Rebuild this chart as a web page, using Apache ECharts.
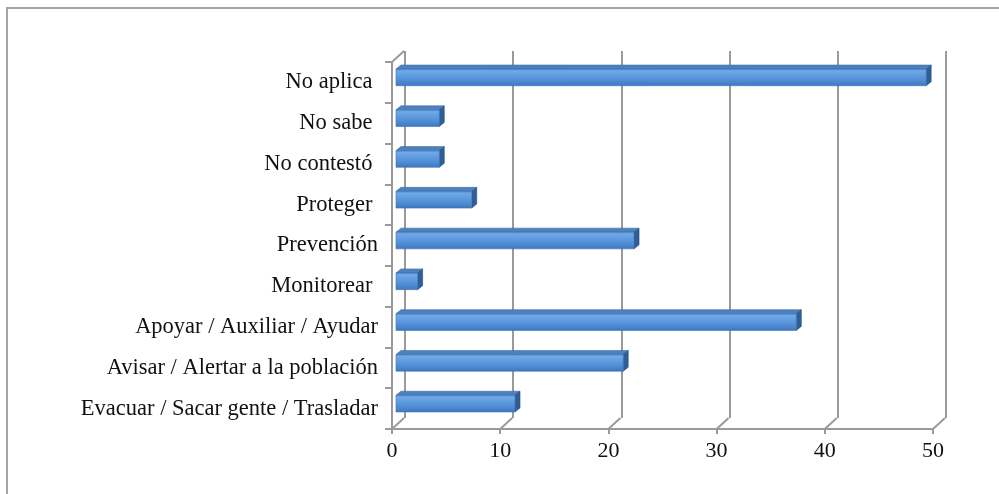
<!DOCTYPE html>
<html>
<head>
<meta charset="utf-8">
<script src="https://cdn.jsdelivr.net/npm/echarts@6/dist/echarts.min.js"></script>
<style>
  html, body { margin: 0; padding: 0; background: #fff; }
  #chart { width: 999px; height: 494px; }
</style>
</head>
<body>
<div id="chart"></div>
<script>
// Categories, top to bottom
const categories = [
  'No aplica ',
  'No sabe ',
  'No contestó ',
  'Proteger ',
  'Prevención',
  'Monitorear ',
  'Apoyar / Auxiliar / Ayudar',
  'Avisar / Alertar a la población',
  'Evacuar / Sacar gente / Trasladar'
];
const counts = [49, 4, 4, 7, 22, 2, 37, 21, 11];
const axisTicks = [0, 10, 20, 30, 40, 50];

const FONT = '"Liberation Serif", "DejaVu Serif", serif';
const LINE = '#9a9a9a';
// perspective offset of the back wall and of the bar depth
const WALL_DX = 12, WALL_DY = 11;
const BAR_DX = 5, BAR_DY = 4;

const chart = echarts.init(document.getElementById('chart'), null, { renderer: 'canvas' });

function renderBar(params, api) {
  const idx = api.value(1);
  const val = api.value(0);
  const start = api.coord([0, idx]);
  const end = api.coord([val, idx]);
  const band = api.size([0, 1])[1];
  const h = band * 0.41;
  const x0 = start[0] + 4;
  const x1 = end[0] + 4;
  const y0 = start[1] - 5 - h / 2;
  const y1 = y0 + h;
  const front = new echarts.graphic.LinearGradient(0, 0, 0, 1, [
    { offset: 0, color: '#4a84c8' },
    { offset: 0.12, color: '#6fa9e7' },
    { offset: 0.55, color: '#5894db' },
    { offset: 1, color: '#3d77c0' }
  ]);
  return {
    type: 'group',
    children: [
      {
        type: 'polygon',
        shape: { points: [[x0, y0], [x0 + BAR_DX, y0 - BAR_DY], [x1 + BAR_DX, y0 - BAR_DY], [x1, y0]] },
        style: { fill: '#4d80bd', stroke: '#3f6ea8', lineWidth: 0.6 }
      },
      {
        type: 'polygon',
        shape: { points: [[x1, y0], [x1 + BAR_DX, y0 - BAR_DY], [x1 + BAR_DX, y1 - BAR_DY], [x1, y1]] },
        style: { fill: '#2f5d96', stroke: '#2a5286', lineWidth: 0.6 }
      },
      {
        type: 'rect',
        shape: { x: x0, y: y0, width: x1 - x0, height: h },
        style: { fill: front, stroke: '#3e72b2', lineWidth: 0.6 }
      }
    ]
  };
}

function renderFloor(params, api) {
  const v = api.value(0);
  const cs = params.coordSys;
  const x = api.coord([v, 0])[0];
  const yb = cs.y + cs.height;
  const children = [{
    type: 'line',
    shape: { x1: x, y1: yb, x2: x + WALL_DX, y2: yb - WALL_DY },
    style: { stroke: LINE, lineWidth: 2 }
  }];
  if (params.dataIndex === 0) {
    children.push({
      type: 'line',
      shape: { x1: x, y1: cs.y, x2: x + WALL_DX, y2: cs.y - WALL_DY },
      style: { stroke: LINE, lineWidth: 2 }
    });
  }
  return { type: 'group', children };
}

const option = {
  animation: false,
  backgroundColor: '#fff',
  graphic: [{
    type: 'rect',
    shape: { x: 7, y: 8, width: 1100, height: 600 },
    style: { fill: 'none', stroke: '#a6a6a6', lineWidth: 2 },
    silent: true,
    z: -10
  }],
  grid: [
    { left: 392, top: 62, width: 541, height: 367 },
    { left: 392 + WALL_DX + 1, top: 62 - WALL_DY, width: 541, height: 367 }
  ],
  xAxis: [
    {
      gridIndex: 0, type: 'value', min: 0, max: 50, interval: 10,
      axisLine: { show: true, lineStyle: { color: LINE, width: 2 } },
      axisTick: { show: true, length: 5, lineStyle: { color: LINE, width: 2 } },
      axisLabel: { color: '#111', fontFamily: FONT, fontSize: 22, margin: 11 },
      splitLine: { show: false }
    },
    {
      gridIndex: 1, type: 'value', min: 0, max: 50, interval: 10,
      axisLine: { show: false }, axisTick: { show: false }, axisLabel: { show: false },
      splitLine: { show: true, lineStyle: { color: LINE, width: 2 } }
    }
  ],
  yAxis: [
    {
      gridIndex: 0, type: 'category', data: categories, inverse: true,
      axisLine: { show: true, lineStyle: { color: LINE, width: 2 } },
      axisTick: { show: true, length: 7, lineStyle: { color: LINE, width: 2 } },
      axisLabel: { color: '#111', fontFamily: FONT, fontSize: 22.5, margin: 14 },
      splitLine: { show: false }
    },
    {
      gridIndex: 1, type: 'category', data: categories, inverse: true,
      axisLine: { show: false }, axisTick: { show: false }, axisLabel: { show: false },
      splitLine: { show: false }
    }
  ],
  series: [
    {
      type: 'custom',
      xAxisIndex: 0, yAxisIndex: 0,
      renderItem: renderFloor,
      data: axisTicks.map(v => [v, 0]),
      silent: true,
      z: 1
    },
    {
      type: 'custom',
      xAxisIndex: 0, yAxisIndex: 0,
      renderItem: renderBar,
      data: counts.map((v, i) => [v, i]),
      encode: { x: 0, y: 1 },
      z: 5
    }
  ]
};

chart.setOption(option);
</script>
</body>
</html>
